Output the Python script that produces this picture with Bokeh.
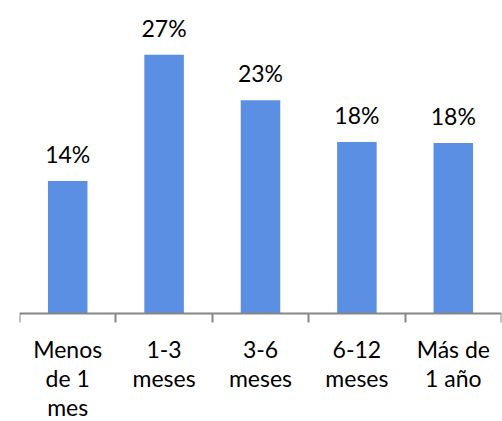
from bokeh.plotting import figure
from bokeh.models import ColumnDataSource, LabelSet, LinearAxis, FixedTicker, Range1d
from bokeh.core.properties import value
from bokeh.embed import file_html
from bokeh.resources import INLINE

categories = ["Menos\nde 1\nmes", "1-3\nmeses", "3-6\nmeses", "6-12\nmeses", "Más de\n1 año"]
values = [0.140, 0.273, 0.225, 0.181, 0.180]
labels = ["14%", "27%", "23%", "18%", "18%"]

FONT = "Lato"
BAR = "#5B8FE3"
AXIS = "#868686"

xs = [i + 0.5 for i in range(len(categories))]
src = ColumnDataSource(dict(x=xs, top=values, label=labels))

p = figure(width=502, height=421, output_backend="svg", toolbar_location=None,
           x_range=Range1d(0, len(categories)), y_range=Range1d(-0.1132, 0.33),
           x_axis_location=None, y_axis_location=None,
           min_border_left=19, min_border_right=1, min_border_top=0, min_border_bottom=0)
p.outline_line_color = None
p.xgrid.visible = False
p.ygrid.visible = False
p.background_fill_color = "white"
p.border_fill_color = "white"

p.vbar(x="x", top="top", width=0.41, bottom=0, source=src, fill_color=BAR, line_color=None)

ax = LinearAxis(ticker=FixedTicker(ticks=xs, minor_ticks=list(range(len(categories) + 1))),
                fixed_location=0)
ax.major_label_overrides = {x: c for x, c in zip(xs, categories)}
ax.major_tick_out = 0
ax.major_tick_in = 0
ax.minor_tick_out = 9
ax.minor_tick_in = 0
ax.axis_line_color = AXIS
ax.axis_line_width = 2
ax.minor_tick_line_color = AXIS
ax.minor_tick_line_width = 2
ax.major_label_text_font = FONT
ax.major_label_text_font_size = "23px"
ax.major_label_text_color = "black"
ax.major_label_text_line_height = 1.03
ax.major_label_standoff = 12
p.add_layout(ax, "below")

ls = LabelSet(x="x", y="top", text="label", source=src, text_align="center",
              text_baseline="alphabetic", y_offset=18, text_font=value(FONT),
              text_font_size="23px", text_color="black")
p.add_layout(ls)

open("out.html", "w").write(file_html(p, INLINE))
